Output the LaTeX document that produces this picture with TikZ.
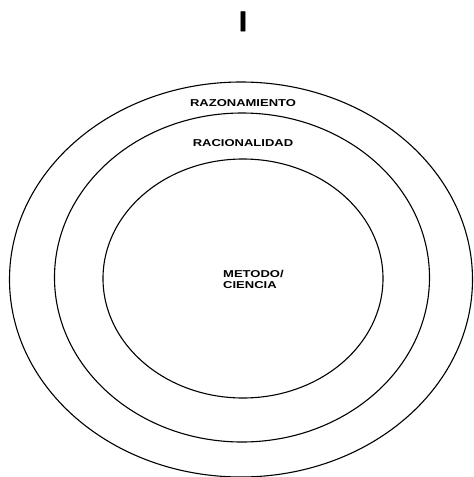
\documentclass[tikz,border=0pt]{standalone}
\usepackage{fontspec}
\setmainfont{Liberation Sans}
\newfontfamily\lblfont[FakeStretch=1.3]{Liberation Sans}
\newfontfamily\titfont[FakeBold=2]{Liberation Sans}
\begin{document}
\begin{tikzpicture}[x=1pt,y=-1pt,
  ring/.style={draw=black,line width=1.1pt},
  lbl/.style={font=\lblfont\bfseries\fontsize{10}{11.5}\selectfont,inner sep=0pt,text=black}]
\useasboundingbox (0,0) rectangle (474,477);
\fill[white] (0,0) rectangle (474,477);
\node[font=\titfont\bfseries\fontsize{28}{30}\selectfont,inner sep=0pt,anchor=base] (title) at (243,31) {I};
\draw[ring] (241,279.5) ellipse [x radius=231.5,y radius=197.5];
\draw[ring] (242,277.5) ellipse [x radius=187.5,y radius=164.5];
\draw[ring] (243,278.5) ellipse [x radius=140,y radius=119.5];
\node[lbl] (raz) at (243,103) {RAZONAMIENTO};
\node[lbl] (rac) at (243,143) {RACIONALIDAD};
\node[lbl,align=left,anchor=west] (met) at (223,279.5) {METODO/\\[-1pt]CIENCIA};
\end{tikzpicture}
\end{document}
